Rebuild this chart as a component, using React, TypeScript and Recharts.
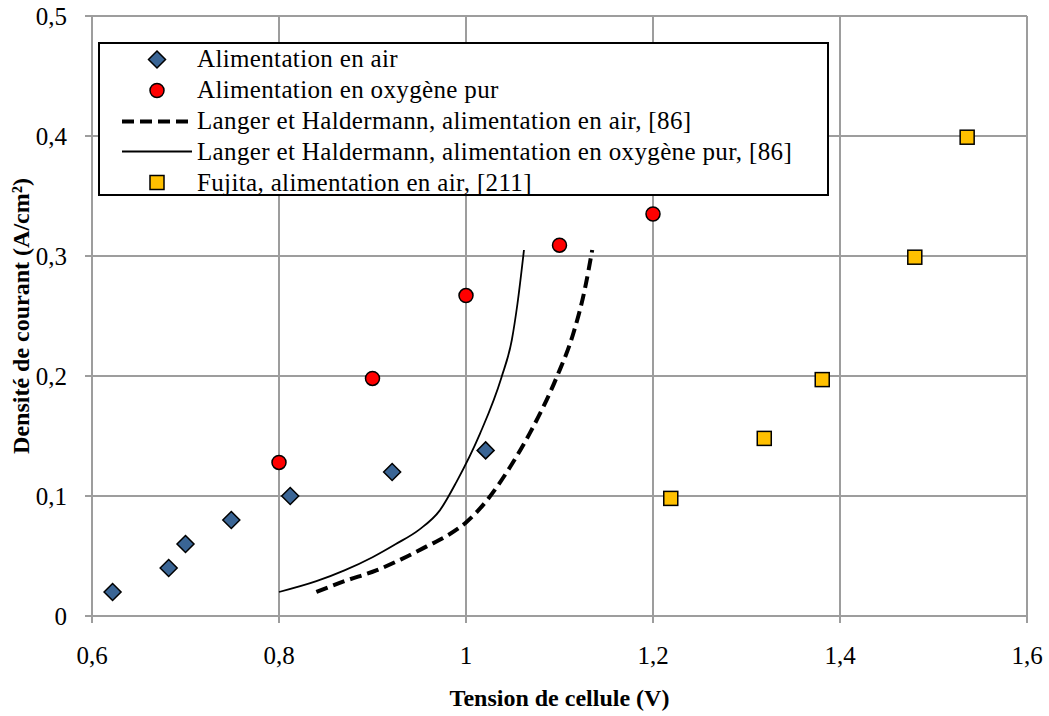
import { CartesianGrid, Legend, Scatter, ScatterChart, XAxis, YAxis } from "recharts";

const FONT = '"Liberation Serif", "Times New Roman", serif';
const GRID = "#9d9d9d";

// x ticks (V) and y ticks (A/cm²)
const xTicks = [0.6, 0.8, 1, 1.2, 1.4, 1.6];
const yTicks = [0, 0.1, 0.2, 0.3, 0.4, 0.5];

// Alimentation en air
const airV = [0.622, 0.682, 0.7, 0.749, 0.812, 0.921, 1.021];
const airJ = [0.02, 0.04, 0.06, 0.08, 0.1, 0.12, 0.138];

// Alimentation en oxygène pur
const o2V = [0.8, 0.9, 1.0, 1.1, 1.2];
const o2J = [0.128, 0.198, 0.267, 0.309, 0.335];

// Langer et Haldermann, air (dashed)
const langerAirV = [0.84, 0.87, 0.904, 0.93, 0.958, 0.98, 1.0, 1.022, 1.047, 1.068, 1.097, 1.115, 1.127, 1.135];
const langerAirJ = [0.02, 0.029, 0.038, 0.047, 0.058, 0.067, 0.078, 0.096, 0.124, 0.152, 0.199, 0.236, 0.272, 0.305];

// Langer et Haldermann, oxygène pur (solid)
const langerO2V = [0.8, 0.84, 0.87, 0.9, 0.925, 0.95, 0.972, 0.99, 1.015, 1.038, 1.049, 1.055, 1.062];
const langerO2J = [0.02, 0.029, 0.038, 0.049, 0.06, 0.072, 0.088, 0.112, 0.152, 0.199, 0.23, 0.26, 0.305];

// Fujita, air
const fujitaV = [1.219, 1.319, 1.381, 1.48, 1.536];
const fujitaJ = [0.098, 0.148, 0.197, 0.299, 0.399];

const seriesNames = [
  "Alimentation en air",
  "Alimentation en oxygène pur",
  "Langer et Haldermann, alimentation en air, [86]",
  "Langer et Haldermann, alimentation en oxygène pur, [86]",
  "Fujita, alimentation en air, [211]",
];

const toPoints = (xs: number[], ys: number[]) => xs.map((x, i) => ({ x, y: ys[i] }));

const fmt = (v: number) => String(v).replace(".", ",");

function Diamond({ cx, cy }: any) {
  const r = 8.5;
  return (
    <path
      d={`M${cx},${cy - r}L${cx + r},${cy}L${cx},${cy + r}L${cx - r},${cy}Z`}
      fill="#3a6595"
      stroke="#000"
      strokeWidth={1.5}
    />
  );
}

function Dot({ cx, cy }: any) {
  return <circle cx={cx} cy={cy} r={7} fill="#ff0000" stroke="#000" strokeWidth={1.5} />;
}

function Square({ cx, cy }: any) {
  return (
    <rect x={cx - 7} y={cy - 7} width={14} height={14} fill="#ffc000" stroke="#000" strokeWidth={1.5} />
  );
}

const Nothing = () => <g />;

function LegendBox() {
  const icons = [
    <Diamond cx={57} cy={15.5} />,
    <Dot cx={57} cy={15.5} />,
    <line x1={22} x2={92} y1={15.5} y2={15.5} stroke="#000" strokeWidth={4} strokeDasharray="12 6" />,
    <line x1={22} x2={92} y1={15.5} y2={15.5} stroke="#000" strokeWidth={1.8} />,
    <Square cx={57} cy={15.5} />,
  ];
  return (
    <div
      style={{
        width: 727,
        height: 150,
        border: "2px solid #000",
        background: "#fff",
        fontFamily: FONT,
        fontSize: 25,
        color: "#000",
      }}
    >
      {seriesNames.map((name, i) => (
        <div key={name} style={{ display: "flex", alignItems: "center", height: 30.8 }}>
          <svg width={97} height={31} style={{ flex: "none" }}>
            {icons[i]}
          </svg>
          <span style={{ whiteSpace: "nowrap", letterSpacing: 0.35 }}>{name}</span>
        </div>
      ))}
    </div>
  );
}

function YTitle({ viewBox }: any) {
  const x = viewBox.x + 9;
  const y = viewBox.y + viewBox.height / 2;
  return (
    <text
      x={x}
      y={y}
      transform={`rotate(-90 ${x} ${y})`}
      textAnchor="middle"
      dominantBaseline="central"
      fontFamily={FONT}
      fontWeight="bold"
      fontSize={24}
      fill="#000"
    >
      Densité de courant (A/cm²)
    </text>
  );
}

function XTitle({ viewBox }: any) {
  return (
    <text
      x={viewBox.x + viewBox.width / 2}
      y={viewBox.y + 82}
      textAnchor="middle"
      dominantBaseline="central"
      fontFamily={FONT}
      fontWeight="bold"
      fontSize={24}
      fill="#000"
    >
      Tension de cellule (V)
    </text>
  );
}

export default function App() {
  const tickStyle = { fontFamily: FONT, fontSize: 25, fill: "#000" };
  return (
    <div style={{ position: "absolute", left: 0, top: 0, background: "#fff" }}>
      <ScatterChart width={1049} height={716} margin={{ top: 16, right: 22, bottom: 0, left: 12 }}>
        <CartesianGrid stroke={GRID} strokeWidth={2} />
        <XAxis
          type="number"
          dataKey="x"
          domain={[0.6, 1.6]}
          ticks={xTicks}
          tickFormatter={fmt}
          height={100}
          tickSize={7}
          tickMargin={23}
          tick={tickStyle}
          stroke={GRID}
          axisLine={{ stroke: GRID, strokeWidth: 2 }}
          tickLine={{ stroke: GRID, strokeWidth: 2 }}
          label={<XTitle />}
        />
        <YAxis
          type="number"
          dataKey="y"
          domain={[0, 0.5]}
          ticks={yTicks}
          tickFormatter={fmt}
          width={80}
          tickSize={7}
          tickMargin={18}
          tick={tickStyle}
          stroke={GRID}
          axisLine={{ stroke: GRID, strokeWidth: 2 }}
          tickLine={{ stroke: GRID, strokeWidth: 2 }}
          label={<YTitle />}
        />
        <Scatter
          name={seriesNames[2]}
          data={toPoints(langerAirV, langerAirJ)}
          line={{ stroke: "#000", strokeWidth: 4, strokeDasharray: "12 6" }}
          lineType="joint"
          lineJointType="monotoneX"
          shape={Nothing}
          isAnimationActive={false}
        />
        <Scatter
          name={seriesNames[3]}
          data={toPoints(langerO2V, langerO2J)}
          line={{ stroke: "#000", strokeWidth: 1.8 }}
          lineType="joint"
          lineJointType="monotoneX"
          shape={Nothing}
          isAnimationActive={false}
        />
        <Scatter name={seriesNames[0]} data={toPoints(airV, airJ)} shape={Diamond} isAnimationActive={false} />
        <Scatter name={seriesNames[1]} data={toPoints(o2V, o2J)} shape={Dot} isAnimationActive={false} />
        <Scatter name={seriesNames[4]} data={toPoints(fujitaV, fujitaJ)} shape={Square} isAnimationActive={false} />
        <Legend
          layout="vertical"
          align="center"
          verticalAlign="middle"
          content={() => <LegendBox />}
          wrapperStyle={{ position: "absolute", left: 98, top: 42, width: 731, height: 154 }}
        />
      </ScatterChart>
    </div>
  );
}
